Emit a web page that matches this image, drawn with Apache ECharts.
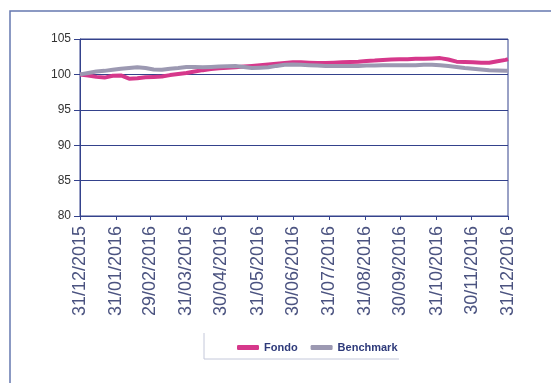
<!DOCTYPE html>
<html>
<head>
<meta charset="utf-8">
<script src="https://cdn.jsdelivr.net/npm/echarts@6/dist/echarts.min.js"></script>
<style>
  html, body { margin: 0; padding: 0; background: #fff; }
  #main { width: 551px; height: 383px; }
</style>
</head>
<body>
<div id="main"></div>
<script>
// month-end labels shown on the x axis
var tickLabels = ['31/12/2015', '31/01/2016', '29/02/2016', '31/03/2016', '30/04/2016', '31/05/2016',
  '30/06/2016', '31/07/2016', '31/08/2016', '30/09/2016', '31/10/2016', '30/11/2016', '31/12/2016'];
var yTicks = [80, 85, 90, 95, 100, 105];
var seriesNames = ['Fondo', 'Benchmark'];

// weekly readings (every 7 days from 31/12/2015, last one on 31/12/2016)
var fondo = [100.0, 99.85, 99.65, 99.55, 99.8, 99.85, 99.4, 99.45, 99.6, 99.65,
  99.7, 99.9, 100.05, 100.2, 100.4, 100.6, 100.75, 100.85, 100.95, 101.0,
  101.1, 101.2, 101.3, 101.4, 101.5, 101.6, 101.7, 101.7, 101.65, 101.6,
  101.6, 101.65, 101.7, 101.75, 101.8, 101.9, 101.95, 102.05, 102.1, 102.15,
  102.15, 102.2, 102.2, 102.25, 102.3, 102.1, 101.8, 101.75, 101.7, 101.65,
  101.65, 101.85, 102.05, 102.15];
var benchmark = [100.0, 100.2, 100.4, 100.5, 100.65, 100.8, 100.9, 101.0, 100.9, 100.7,
  100.65, 100.8, 100.9, 101.05, 101.05, 101.0, 101.05, 101.1, 101.15, 101.2,
  101.05, 100.9, 100.95, 101.0, 101.2, 101.35, 101.4, 101.35, 101.3, 101.25,
  101.2, 101.2, 101.2, 101.2, 101.2, 101.25, 101.25, 101.3, 101.3, 101.3,
  101.3, 101.3, 101.35, 101.35, 101.3, 101.2, 101.05, 100.9, 100.8, 100.7,
  100.6, 100.55, 100.5, 100.5];

function pad(n) { return n < 10 ? '0' + n : '' + n; }

// daily categories from 31/12/2015 to 31/12/2016
var days = [];
var d = new Date(2015, 11, 31);
while (d <= new Date(2016, 11, 31)) {
  days.push(pad(d.getDate()) + '/' + pad(d.getMonth() + 1) + '/' + d.getFullYear());
  d.setDate(d.getDate() + 1);
}

function sampleDay(i, n) {
  return i === n - 1 ? days.length - 1 : i * 7;
}
function toPoints(vals) {
  return vals.map(function (v, i) { return [days[sampleDay(i, vals.length)], v]; });
}
function isTick(idx, name) { return tickLabels.indexOf(name) >= 0; }

var navy = '#34428c';
var myChart = echarts.init(document.getElementById('main'));
var option = {
  animation: false,
  color: ['#d6388b', '#9c99b2'],
  grid: {
    left: 80, right: 43, top: 39, bottom: 167,
    show: true, borderColor: navy, borderWidth: 1
  },
  legend: {
    data: seriesNames,
    left: 232, top: 337,
    icon: 'roundRect',
    itemWidth: 22, itemHeight: 5, itemGap: 13,
    textStyle: { color: '#2e3a7a', fontSize: 11, fontWeight: 'bold', fontFamily: 'Liberation Sans' }
  },
  xAxis: {
    type: 'category',
    data: days,
    boundaryGap: false,
    axisLine: { lineStyle: { color: navy } },
    axisTick: { interval: isTick, length: 4, lineStyle: { color: navy } },
    axisLabel: {
      interval: isTick, rotate: 90, margin: 10,
      color: '#4b5380', fontSize: 18, fontFamily: 'Liberation Sans'
    },
    splitLine: { show: false }
  },
  yAxis: {
    type: 'value',
    min: yTicks[0], max: yTicks[yTicks.length - 1], interval: 5,
    axisLine: { show: true, lineStyle: { color: navy } },
    axisTick: { show: true, length: 6, lineStyle: { color: navy } },
    axisLabel: { color: '#333', fontSize: 12, margin: 9, fontFamily: 'Liberation Sans' },
    splitLine: { lineStyle: { color: navy, width: 1 } }
  },
  series: [
    { name: seriesNames[0], type: 'line', data: toPoints(fondo), showSymbol: false,
      lineStyle: { width: 4 } },
    { name: seriesNames[1], type: 'line', data: toPoints(benchmark), showSymbol: false,
      lineStyle: { width: 4 } }
  ],
  graphic: [
    { type: 'rect', shape: { x: 10, y: 11, width: 600, height: 450 },
      style: { fill: 'none', stroke: '#6678b0', lineWidth: 1.5 } },
    { type: 'polyline', shape: { points: [[204, 333], [204, 359], [399, 359]] },
      style: { fill: 'none', stroke: '#c4c8da', lineWidth: 1 } }
  ]
};
myChart.setOption(option);
</script>
</body>
</html>
